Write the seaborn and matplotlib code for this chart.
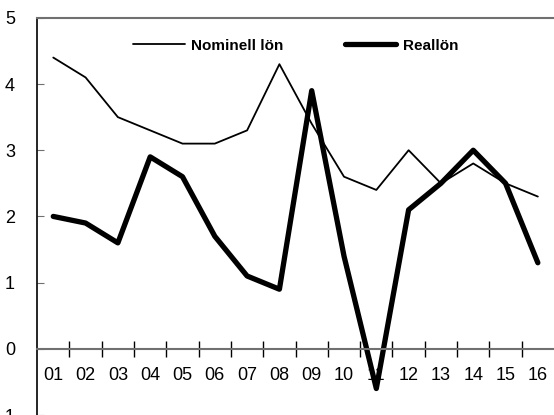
import pandas as pd
import matplotlib
matplotlib.use("Agg")
import matplotlib.pyplot as plt
import seaborn as sns
from matplotlib.ticker import FixedLocator

# data
perioder = ['01', '02', '03', '04', '05', '06', '07', '08',
            '09', '10', '11', '12', '13', '14', '15', '16']
nominell = [4.4, 4.1, 3.5, 3.3, 3.1, 3.1, 3.3, 4.3,
            3.4, 2.6, 2.4, 3.0, 2.5, 2.8, 2.5, 2.3]
real = [2.0, 1.9, 1.6, 2.9, 2.6, 1.7, 1.1, 0.9,
        3.9, 1.4, -0.6, 2.1, 2.5, 3.0, 2.5, 1.3]

df = pd.DataFrame({'period': perioder, 'Nominell lön': nominell, 'Reallön': real})

sns.set_style("white")
plt.rcParams['font.family'] = ['Liberation Sans', 'DejaVu Sans']
plt.rcParams['text.color'] = 'black'
plt.rcParams['xtick.color'] = 'black'
plt.rcParams['ytick.color'] = 'black'

fig = plt.figure(figsize=(5.54, 4.15), dpi=100)
ax = fig.add_axes([0.067, 0.0, 0.933, 0.957])

sns.lineplot(data=df, x='period', y='Nominell lön', ax=ax, color='black',
             linewidth=1.3, label='Nominell lön')
sns.lineplot(data=df, x='period', y='Reallön', ax=ax, color='black',
             linewidth=3.8, label='Reallön', solid_capstyle='round')

ax.set_xlim(-0.5, 15.5)
ax.set_ylim(-1, 5)
ax.set_xlabel('')
ax.set_ylabel('')

# spines
ax.spines['right'].set_visible(False)
ax.spines['left'].set_color('black')
ax.spines['left'].set_linewidth(1.2)
ax.spines['top'].set_color('#707070')
ax.spines['top'].set_linewidth(1.5)
ax.spines['bottom'].set_position(('data', 0))
ax.spines['bottom'].set_color('#707070')
ax.spines['bottom'].set_linewidth(1.5)

# ticks
ax.set_yticks([-1, 0, 1, 2, 3, 4, 5])
ax.set_yticklabels(['-1', '0', '1', '2', '3', '4', '5'])
ax.tick_params(axis='y', direction='in', length=5, color='#707070',
               labelsize=13, pad=16, left=True)
ax.set_xticks(range(len(perioder)))
ax.set_xticklabels(perioder)
ax.tick_params(axis='x', which='major', length=0, labelsize=13, pad=13)
ax.xaxis.set_minor_locator(FixedLocator([i + 0.5 for i in range(len(perioder) - 1)]))
ax.tick_params(axis='x', which='minor', direction='inout', length=12,
               color='black', width=1, bottom=True)

leg = ax.legend(loc='upper center', bbox_to_anchor=(0.5, 0.982), ncol=2,
                frameon=False, handlelength=3.4, columnspacing=4.0,
                handletextpad=0.4, prop={'weight': 'bold', 'size': 11})

fig.savefig('out.png', dpi=100)
